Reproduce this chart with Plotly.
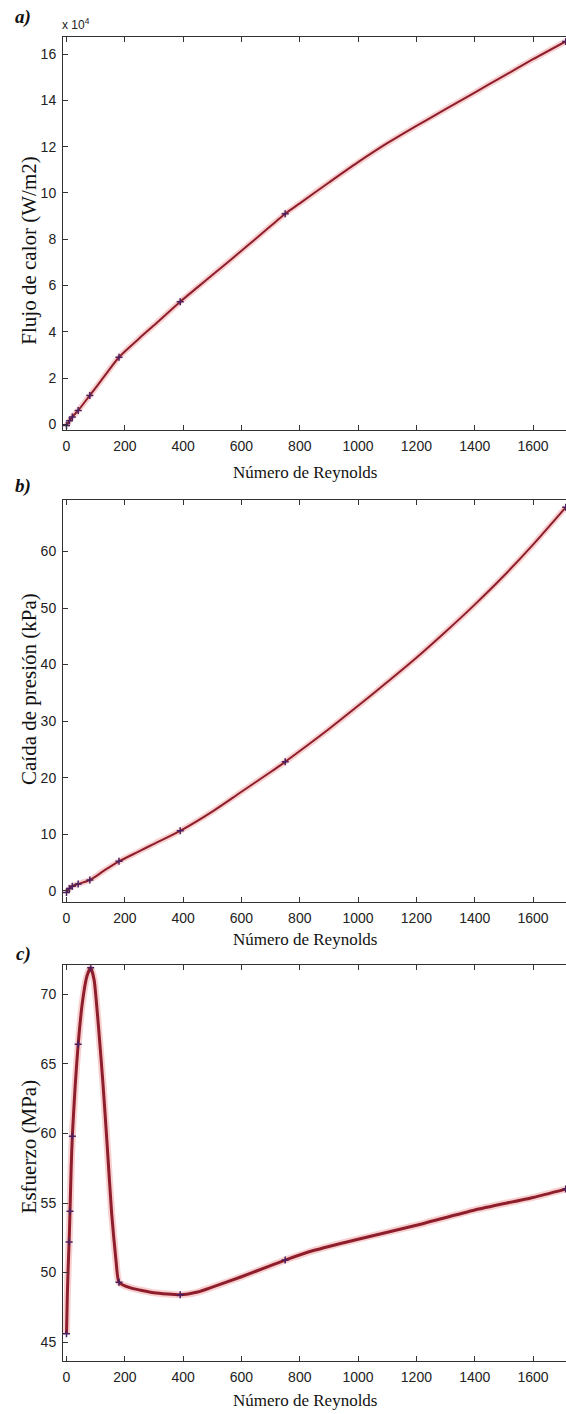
import plotly.graph_objects as go

W, H = 566, 1414

# ---------------- data ----------------
# a) heat flux, in units of 1e4 W/m2
re_a_line = [0, 10, 20, 40, 80, 130, 180, 250, 300, 390, 450, 500, 600, 700, 750, 800, 900,
             1000, 1100, 1200, 1300, 1400, 1500, 1600, 1712]
q_a_line = [-0.05, 0.15, 0.32, 0.6, 1.25, 2.08, 2.9, 3.72, 4.28, 5.3, 5.93, 6.45, 7.5, 8.57, 9.1, 9.55, 10.45,
            11.33, 12.15, 12.9, 13.62, 14.34, 15.06, 15.78, 16.55]
re_a_pts = [0, 10, 20, 40, 80, 180, 390, 750, 1712]
q_a_pts = [-0.05, 0.15, 0.32, 0.6, 1.25, 2.9, 5.3, 9.1, 16.55]

# b) pressure drop, kPa
re_b_line = [0, 10, 20, 40, 80, 130, 180, 250, 300, 390, 500, 600, 700, 750, 800, 900,
             1000, 1100, 1200, 1300, 1400, 1500, 1600, 1712]
dp_b_line = [-0.3, 0.4, 0.8, 1.2, 1.9, 3.6, 5.2, 7.0, 8.3, 10.6, 14.0, 17.5, 21.0, 22.8, 24.7, 28.6,
             32.7, 36.9, 41.2, 45.8, 50.6, 55.7, 61.2, 67.8]
re_b_pts = [0, 10, 20, 40, 80, 180, 390, 750, 1712]
dp_b_pts = [-0.3, 0.4, 0.8, 1.2, 1.9, 5.2, 10.6, 22.8, 67.8]

# c) stress, MPa
re_c_line = [0, 3, 6, 9, 12, 16, 20, 30, 40, 55, 70, 83, 95, 110, 125, 140, 155, 170, 180,
             220, 300, 390, 450, 500, 600, 700, 750, 850, 1000, 1200, 1400, 1600, 1712]
s_c_line = [45.6, 48.5, 50.5, 52.2, 54.4, 57.5, 59.8, 63.5, 66.4, 69.5, 71.3, 71.9, 71.0, 67.6, 63.6,
            59.0, 54.2, 50.8, 49.3, 48.9, 48.55, 48.4, 48.6, 48.95, 49.7, 50.5, 50.9, 51.6, 52.4,
            53.4, 54.5, 55.4, 56.0]
re_c_pts = [0, 9, 12, 20, 40, 83, 180, 390, 750, 1712]
s_c_pts = [45.6, 52.2, 54.4, 59.8, 66.4, 71.9, 49.3, 48.4, 50.9, 56.0]

x_ticks = [0, 200, 400, 600, 800, 1000, 1200, 1400, 1600]
y_ticks_a = [0, 2, 4, 6, 8, 10, 12, 14, 16]
y_ticks_b = [0, 10, 20, 30, 40, 50, 60]
y_ticks_c = [45, 50, 55, 60, 65, 70]

x_title = "Número de Reynolds"
y_titles = ["Flujo de calor (W/m2)", "Caída de presión (kPa)", "Esfuerzo (MPa)"]
panel_tags = ["a)", "b)", "c)"]

# ---------------- layout helpers ----------------
def py(p):  # pixel y -> paper y
    return 1 - p / H

def px(p):  # pixel x -> paper x
    return p / W

x_range = [-12, 1713]
panels = [
    dict(top=37.3, bot=430.7, yr=[-0.25, 16.73], yt=y_ticks_a, lw=2.0, sm=0.8),
    dict(top=500.7, bot=903.0, yr=[-1.94, 69.1], yt=y_ticks_b, lw=2.0, sm=0.8),
    dict(top=966.7, bot=1363.0, yr=[43.64, 72.08], yt=y_ticks_c, lw=3.0, sm=0.5),
]
series = [
    (re_a_line, q_a_line, re_a_pts, q_a_pts),
    (re_b_line, dp_b_line, re_b_pts, dp_b_pts),
    (re_c_line, s_c_line, re_c_pts, s_c_pts),
]

fig = go.Figure()
tick_font = dict(family="Liberation Sans, Arial", size=14, color="#222222")
serif = "Liberation Serif, Times New Roman"

for i, (p, (xl, yl, xp, yp)) in enumerate(zip(panels, series)):
    n = i + 1
    xa = "x" if n == 1 else f"x{n}"
    ya = "y" if n == 1 else f"y{n}"
    # halo
    fig.add_trace(go.Scatter(x=xl, y=yl, mode="lines", xaxis=xa, yaxis=ya,
                             line=dict(color="rgba(235,120,120,0.35)", width=p["lw"] + 4,
                                       shape="spline", smoothing=p["sm"]),
                             hoverinfo="skip", showlegend=False))
    fig.add_trace(go.Scatter(x=xl, y=yl, mode="lines", xaxis=xa, yaxis=ya,
                             line=dict(color="#8e1e2c", width=p["lw"],
                                       shape="spline", smoothing=p["sm"]),
                             showlegend=False))
    fig.add_trace(go.Scatter(x=xp, y=yp, mode="markers", xaxis=xa, yaxis=ya,
                             marker=dict(symbol="cross-thin", size=5, color="#4a2060",
                                         line=dict(width=1.5, color="#4a2060")),
                             showlegend=False))
    dom_y = [py(p["bot"]), py(p["top"])]
    fig.layout[f"xaxis{'' if n == 1 else n}"] = dict(
        domain=[px(63), 1.0], range=x_range, anchor=ya, tickvals=x_ticks,
        ticks="inside", ticklen=5, tickcolor="#333", showline=True, linecolor="#333",
        linewidth=1, mirror="ticks", showgrid=False, zeroline=False,
        tickfont=tick_font, ticklabelstandoff=3)
    fig.layout[f"yaxis{'' if n == 1 else n}"] = dict(
        domain=dom_y, range=p["yr"], anchor=xa, tickvals=p["yt"],
        ticks="inside", ticklen=5, tickcolor="#333", showline=True, linecolor="#333",
        linewidth=1, mirror=False, showgrid=False, zeroline=False,
        tickfont=tick_font, ticklabelstandoff=3)
    # right-side mirrored ticks (right frame edge falls outside the picture)
    fig.layout[f"yaxis{n + 3}"] = dict(
        domain=dom_y, range=p["yr"], anchor=xa, overlaying=ya, side="right",
        tickvals=p["yt"], ticks="inside", ticklen=5, tickcolor="#555",
        showticklabels=False, showline=False, showgrid=False, zeroline=False)

# ---------------- annotations ----------------
ann = []
tag_y = [17, 487, 955]
xt_y = [473, 941, 1402]
yt_y = [251, 690, 1148]
for i in range(3):
    ann.append(dict(text=f"<b><i>{panel_tags[i]}</i></b>", x=px(23), y=py(tag_y[i]),
                    xref="paper", yref="paper", showarrow=False,
                    xanchor="center", yanchor="middle",
                    font=dict(family=serif, size=19, color="#111")))
    ann.append(dict(text=x_title, x=px(305), y=py(xt_y[i]), xref="paper", yref="paper",
                    showarrow=False, xanchor="center", yanchor="middle",
                    font=dict(family=serif, size=17, color="#111")))
    ann.append(dict(text=y_titles[i], x=px(29), y=py(yt_y[i]), xref="paper", yref="paper",
                    showarrow=False, textangle=-90, xanchor="center", yanchor="middle",
                    font=dict(family=serif, size=21, color="#111")))
ann.append(dict(text="x 10<sup>4</sup>", x=px(60), y=py(24), xref="paper", yref="paper",
                xanchor="left", yanchor="middle", showarrow=False,
                font=dict(family="Liberation Sans, Arial", size=12, color="#222")))

fig.update_layout(width=W, height=H, margin=dict(l=0, r=0, t=0, b=0),
                  paper_bgcolor="white", plot_bgcolor="white", annotations=ann)

fig.write_html("out.html", config={"displayModeBar": False},
               post_script="document.body.style.margin='0';document.body.style.overflow='hidden';")
